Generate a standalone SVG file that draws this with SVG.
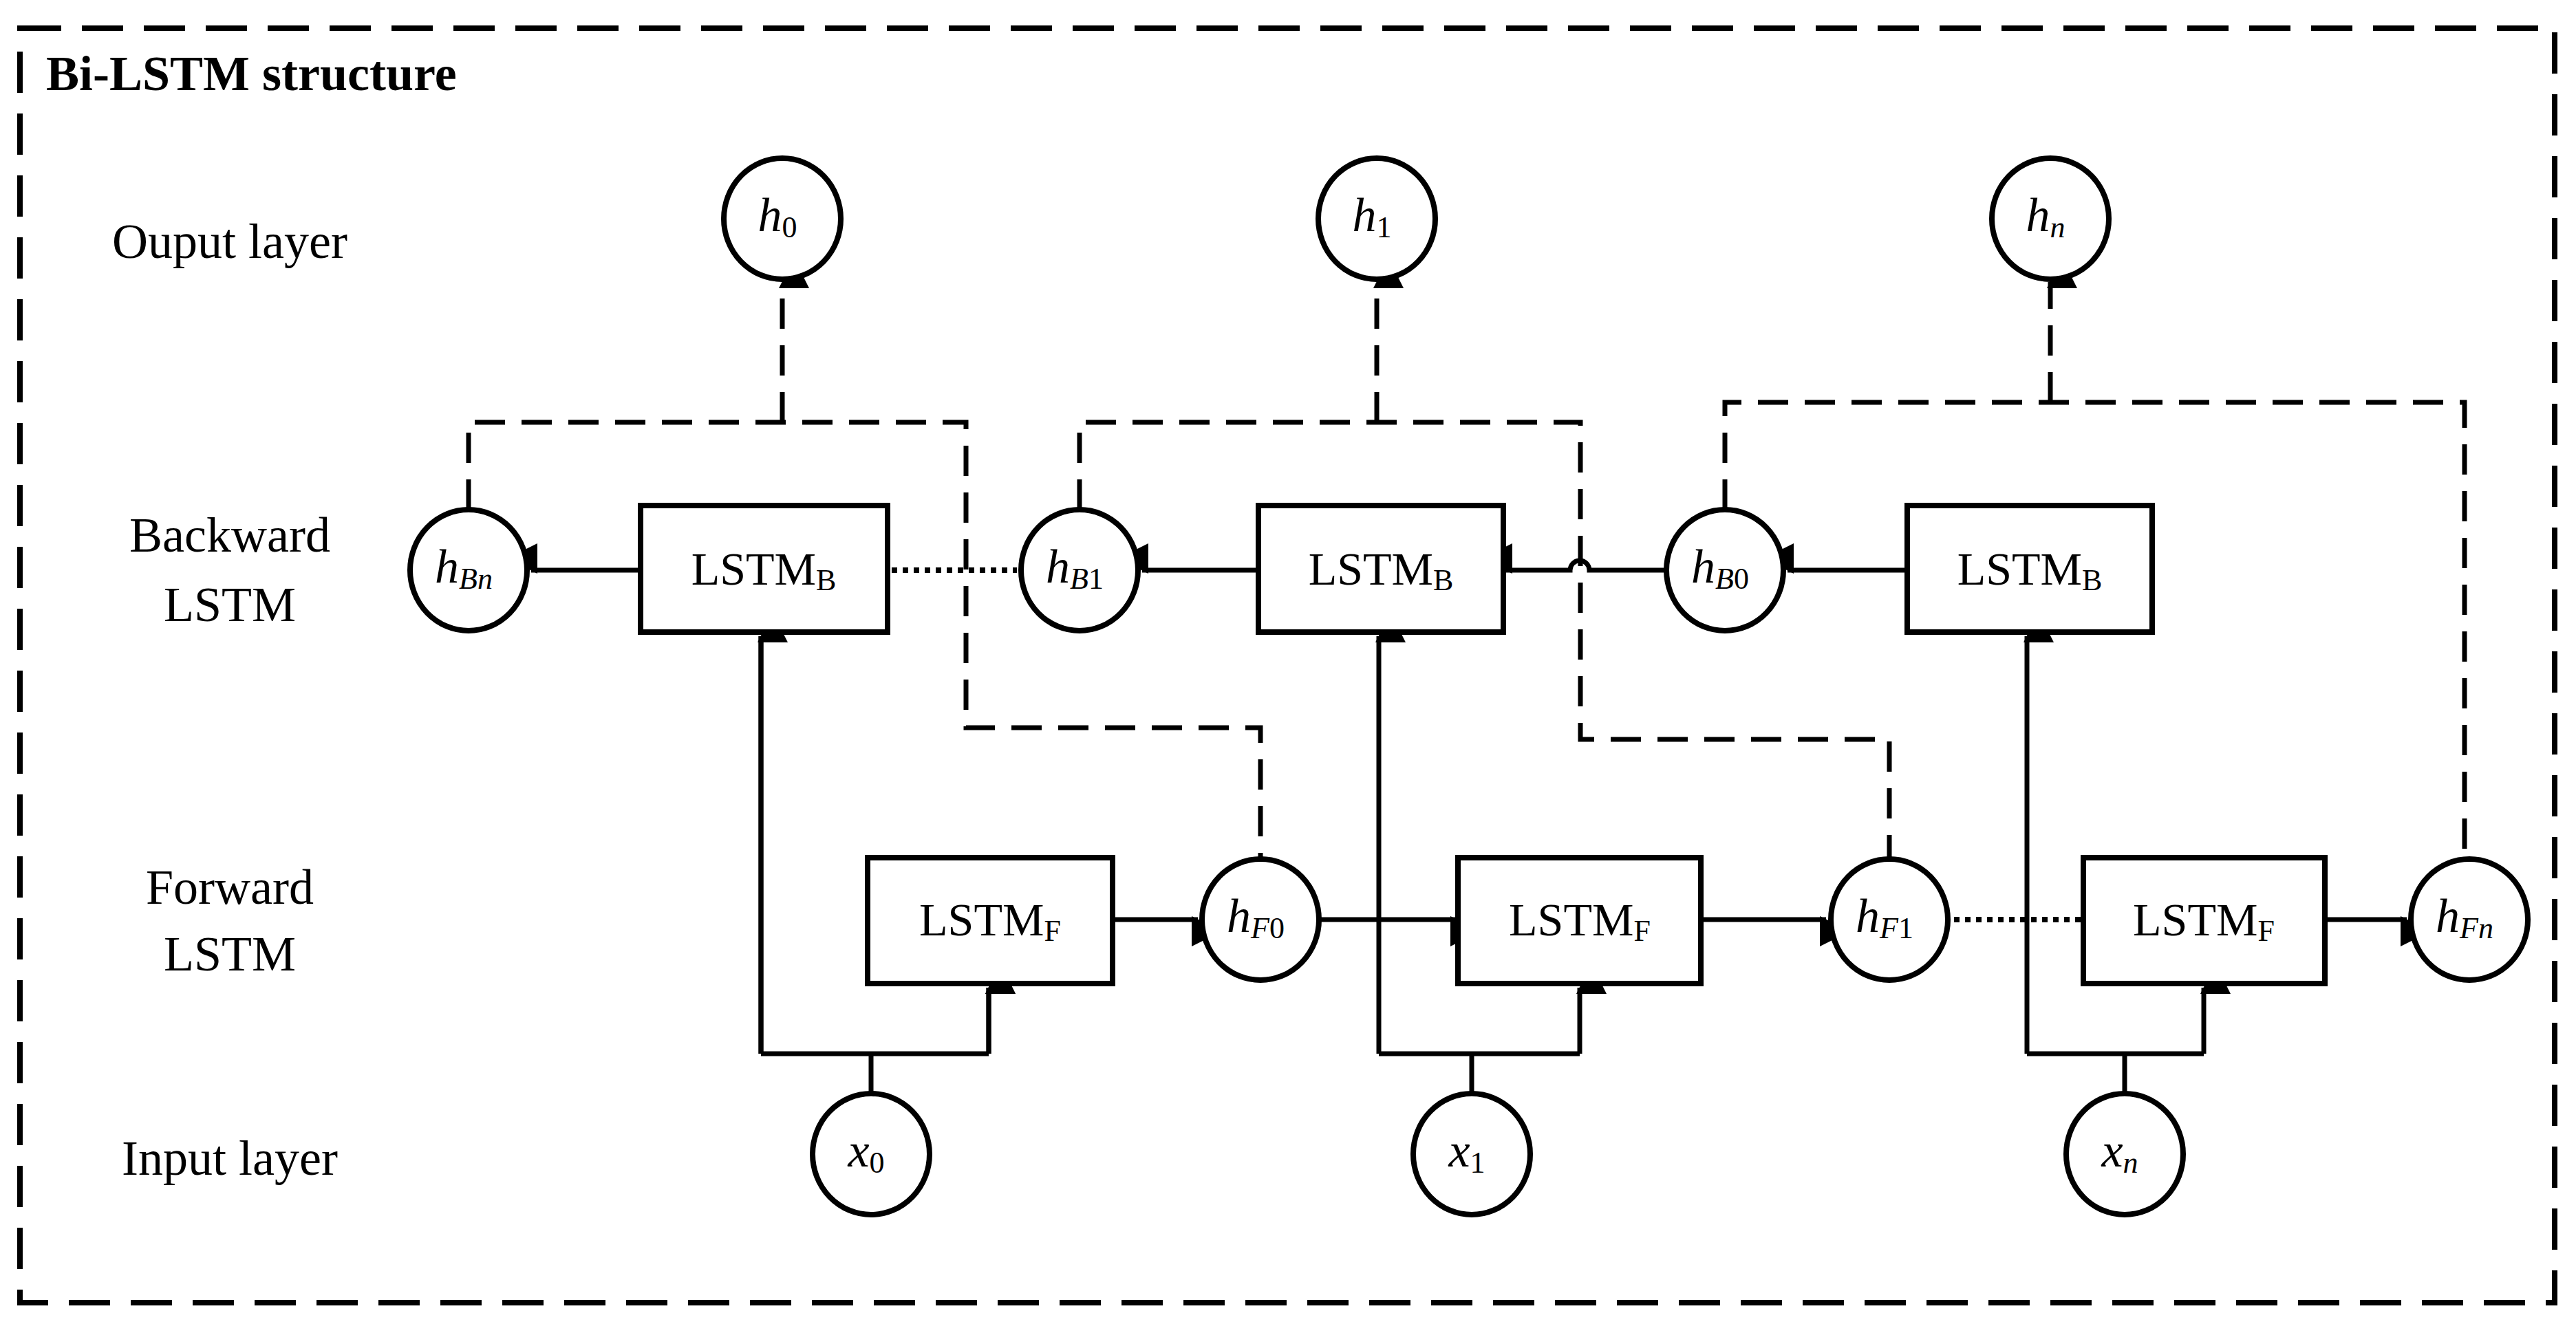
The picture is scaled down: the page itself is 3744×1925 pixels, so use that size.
<svg xmlns="http://www.w3.org/2000/svg" width="3744" height="1925" viewBox="0 0 3744 1925">
<defs>
<marker id="ar" markerWidth="10" markerHeight="10" refX="9" refY="5" orient="auto" markerUnits="userSpaceOnUse" viewBox="0 0 10 10" style="overflow:visible"><path d="M0,0 L10,5 L0,10 Z" transform="scale(4.4)" fill="#000"/></marker>
<style>
text{font-family:"Liberation Serif","Times New Roman",serif;fill:#000}
.lbl{font-size:72px;text-anchor:middle;dominant-baseline:central}
.c{fill:#fff;stroke:#000;stroke-width:8}
.b{fill:#fff;stroke:#000;stroke-width:8}
.s{fill:none;stroke:#000;stroke-width:7}
.d{fill:none;stroke:#000;stroke-width:7;stroke-dasharray:44 24}
.dot{fill:none;stroke:#000;stroke-width:8;stroke-dasharray:8 8}
.hv{font-size:70px;font-style:italic;text-anchor:middle;dominant-baseline:central}
.bx{font-size:68px;text-anchor:middle;dominant-baseline:central}
</style>
</defs>
<rect x="29" y="41" width="3684" height="1853" fill="none" stroke="#000" stroke-width="8" stroke-dasharray="60 30"/>
<text x="67" y="131" font-size="72" font-weight="bold">Bi-LSTM structure</text>
<text class="lbl" x="334" y="351">Ouput layer</text>
<text class="lbl" x="334" y="778">Backward</text>
<text class="lbl" x="334" y="879">LSTM</text>
<text class="lbl" x="334" y="1290">Forward</text>
<text class="lbl" x="334" y="1387">LSTM</text>
<text class="lbl" x="334" y="1684">Input layer</text>
<g id="connectors">
<!-- input brackets -->
<path class="s" d="M1266,1590 V1532 M1106,1532 H1437 M1106,1532 V925 M1437,1532 V1436" marker-end="url(#ar)"/>
<path class="s" d="M1106,1532 V925" marker-end="url(#ar)"/>
<path class="s" d="M1437,1532 V1436" marker-end="url(#ar)"/>
<path class="s" d="M2139,1590 V1532 M2004,1532 H2296"/>
<path class="s" d="M2004,1532 V925" marker-end="url(#ar)"/>
<path class="s" d="M2296,1532 V1436" marker-end="url(#ar)"/>
<path class="s" d="M3088,1590 V1532 M2946,1532 H3203"/>
<path class="s" d="M2946,1532 V925" marker-end="url(#ar)"/>
<path class="s" d="M3203,1532 V1436" marker-end="url(#ar)"/>
<!-- forward -->
<path class="s" d="M1617,1337 H1741" marker-end="url(#ar)"/>
<path class="s" d="M1919,1337 H2117" marker-end="url(#ar)"/>
<path class="s" d="M2472,1337 H2654" marker-end="url(#ar)"/>
<path class="dot" d="M2840,1337 H3024"/>
<path class="s" d="M3379,1337 H3498" marker-end="url(#ar)"/>
<!-- backward -->
<path class="s" d="M931,829 H772" marker-end="url(#ar)"/>
<path class="dot" d="M1296,829 H1478"/>
<path class="s" d="M1829,829 H1660" marker-end="url(#ar)"/>
<path class="s" d="M2420,829 H2310 A14,14 0 0 0 2282,829 H2189" marker-end="url(#ar)"/>
<path class="s" d="M2772,829 H2598" marker-end="url(#ar)"/>
<!-- dashed output links -->
<path class="d" d="M681,741 V614 H1404 V1058 H1832 V1249"/>
<path class="d" d="M1137,614 V410" marker-end="url(#ar)"/>
<path class="d" d="M1569,741 V614 H2297 V1075 H2746 V1249"/>
<path class="d" d="M2001,614 V410" marker-end="url(#ar)"/>
<path class="d" d="M2507,741 V585 H3582 V1249"/>
<path class="d" d="M2980,585 V410" marker-end="url(#ar)"/>
</g>
<g id="h0"><ellipse class="c" cx="1137" cy="318" rx="85" ry="88"/><text class="hv" x="1130" y="312">h<tspan font-size="44" font-style="normal" dy="18">0</tspan></text></g>
<g id="h1"><ellipse class="c" cx="2001" cy="318" rx="85" ry="88"/><text class="hv" x="1994" y="312">h<tspan font-size="44" font-style="normal" dy="18">1</tspan></text></g>
<g id="hn"><ellipse class="c" cx="2980" cy="318" rx="85" ry="88"/><text class="hv" x="2973" y="312">h<tspan font-size="44" dy="18">n</tspan></text></g>
<g id="hBn"><ellipse class="c" cx="681" cy="829" rx="85" ry="88"/><text class="hv" x="674" y="823">h<tspan font-size="44" dy="18">Bn</tspan></text></g>
<g id="hB1"><ellipse class="c" cx="1569" cy="829" rx="85" ry="88"/><text class="hv" x="1562" y="823">h<tspan font-size="44" dy="18">B</tspan><tspan font-size="44" font-style="normal">1</tspan></text></g>
<g id="hB0"><ellipse class="c" cx="2507" cy="829" rx="85" ry="88"/><text class="hv" x="2500" y="823">h<tspan font-size="44" dy="18">B</tspan><tspan font-size="44" font-style="normal">0</tspan></text></g>
<g id="lstmB1"><rect class="b" x="931" y="735" width="359" height="184"/><text class="bx" x="1110" y="827">LSTM<tspan font-size="44" dy="16">B</tspan></text></g>
<g id="lstmB2"><rect class="b" x="1829" y="735" width="356" height="184"/><text class="bx" x="2007" y="827">LSTM<tspan font-size="44" dy="16">B</tspan></text></g>
<g id="lstmB3"><rect class="b" x="2772" y="735" width="356" height="184"/><text class="bx" x="2950" y="827">LSTM<tspan font-size="44" dy="16">B</tspan></text></g>
<g id="lstmF1"><rect class="b" x="1261" y="1247" width="356" height="183"/><text class="bx" x="1439" y="1337">LSTM<tspan font-size="44" dy="16">F</tspan></text></g>
<g id="lstmF2"><rect class="b" x="2119" y="1247" width="353" height="183"/><text class="bx" x="2296" y="1337">LSTM<tspan font-size="44" dy="16">F</tspan></text></g>
<g id="lstmF3"><rect class="b" x="3028" y="1247" width="351" height="183"/><text class="bx" x="3203" y="1337">LSTM<tspan font-size="44" dy="16">F</tspan></text></g>
<g id="hF0"><ellipse class="c" cx="1832" cy="1337" rx="85" ry="88"/><text class="hv" x="1825" y="1331">h<tspan font-size="44" dy="18">F</tspan><tspan font-size="44" font-style="normal">0</tspan></text></g>
<g id="hF1"><ellipse class="c" cx="2746" cy="1337" rx="85" ry="88"/><text class="hv" x="2739" y="1331">h<tspan font-size="44" dy="18">F</tspan><tspan font-size="44" font-style="normal">1</tspan></text></g>
<g id="hFn"><ellipse class="c" cx="3589" cy="1337" rx="85" ry="88"/><text class="hv" x="3582" y="1331">h<tspan font-size="44" dy="18">Fn</tspan></text></g>
<g id="x0"><ellipse class="c" cx="1266" cy="1678" rx="85" ry="88"/><text class="hv" x="1259" y="1672">x<tspan font-size="44" font-style="normal" dy="18">0</tspan></text></g>
<g id="x1"><ellipse class="c" cx="2139" cy="1678" rx="85" ry="88"/><text class="hv" x="2132" y="1672">x<tspan font-size="44" font-style="normal" dy="18">1</tspan></text></g>
<g id="xn"><ellipse class="c" cx="3088" cy="1678" rx="85" ry="88"/><text class="hv" x="3081" y="1672">x<tspan font-size="44" dy="18">n</tspan></text></g>
</svg>
